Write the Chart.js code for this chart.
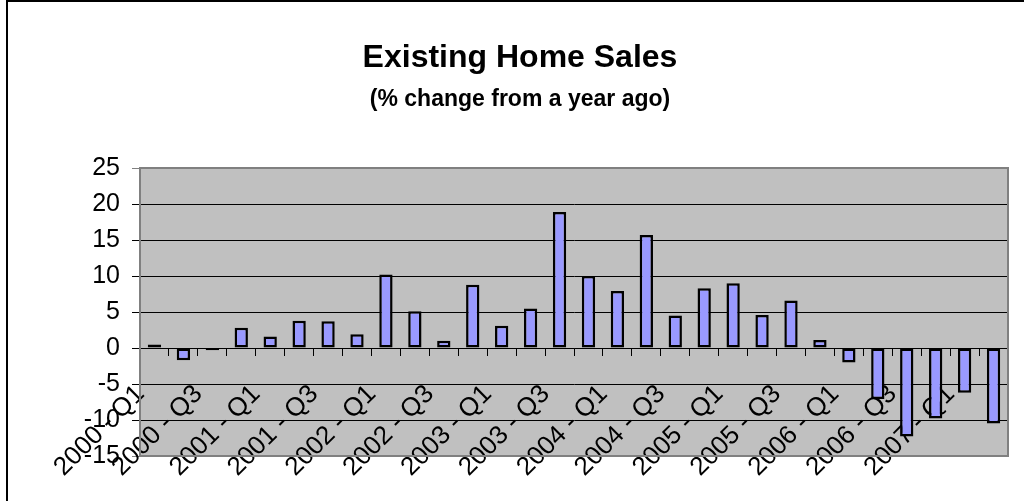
<!DOCTYPE html>
<html>
<head>
<meta charset="utf-8">
<script src="https://cdn.jsdelivr.net/npm/chart.js@4"></script>
<style>
  html, body { margin: 0; padding: 0; background: #fff; overflow: hidden; }
  #frame {
    position: absolute; left: 6px; top: 0px;
    width: 1024px; height: 510px;
    border-left: 2px solid #000; border-top: 2px solid #000;
  }
  #frame canvas { display: block; }
</style>
</head>
<body>
<div id="frame"><canvas id="bar-chart" width="1024" height="499"></canvas></div>
<script>
// quarters, 2000 Q1 .. 2007 Q2
const quarters = [
  "2000 - Q1", "2000 - Q2", "2000 - Q3", "2000 - Q4",
  "2001 - Q1", "2001 - Q2", "2001 - Q3", "2001 - Q4",
  "2002 - Q1", "2002 - Q2", "2002 - Q3", "2002 - Q4",
  "2003 - Q1", "2003 - Q2", "2003 - Q3", "2003 - Q4",
  "2004 - Q1", "2004 - Q2", "2004 - Q3", "2004 - Q4",
  "2005 - Q1", "2005 - Q2", "2005 - Q3", "2005 - Q4",
  "2006 - Q1", "2006 - Q2", "2006 - Q3", "2006 - Q4",
  "2007 - Q1", "2007 - Q2"
];
// % change from a year ago
const salesChange = [
  0.5, -1.7, -0.3, 2.8,
  1.6, 3.8, 3.7, 1.9,
  10.2, 5.1, 1.0, 8.8,
  3.1, 5.5, 18.9, 10.0,
  7.9, 15.7, 4.5, 8.3,
  9.0, 4.6, 6.6, 1.1,
  -2.0, -7.1, -12.3, -9.8,
  -6.2, -10.5
];
const yMin = -15, yMax = 25, yStep = 5;

const plotBg = {
  id: 'plotBg',
  beforeDraw(chart) {
    const a = chart.chartArea, ctx = chart.ctx;
    ctx.save();
    ctx.fillStyle = '#c0c0c0';
    ctx.fillRect(a.left, a.top, a.right - a.left, a.bottom - a.top);
    ctx.restore();
  },
  afterDraw(chart) {
    const a = chart.chartArea, ctx = chart.ctx;
    ctx.save();
    ctx.strokeStyle = '#808080';
    ctx.lineWidth = 2;
    ctx.beginPath();
    ctx.moveTo(a.left, a.top); ctx.lineTo(a.right, a.top);
    ctx.lineTo(a.right, a.bottom); ctx.lineTo(a.left, a.bottom);
    ctx.stroke();
    ctx.restore();
  }
};

new Chart(document.getElementById("bar-chart"), {
  type: 'bar',
  data: {
    labels: quarters,
    datasets: [{
      label: "Existing Home Sales",
      data: salesChange,
      backgroundColor: "#9999ff",
      borderColor: "#000000",
      borderWidth: 2.5,
      borderSkipped: false,
      barPercentage: 0.46,
      categoryPercentage: 1.0
    }]
  },
  options: {
    responsive: false,
    animation: false,
    layout: { padding: { left: 0, right: 0, bottom: 45 } },
    plugins: {
      legend: { display: false },
      tooltip: { enabled: false },
      title: {
        display: true,
        text: 'Existing Home Sales',
        color: '#000',
        font: { family: 'Liberation Sans', size: 32, weight: 'bold' },
        padding: { top: 37, bottom: 8 }
      },
      subtitle: {
        display: true,
        text: '(% change from a year ago)',
        color: '#000',
        font: { family: 'Liberation Sans', size: 23, weight: 'bold' },
        padding: { top: 0, bottom: 55 }
      }
    },
    scales: {
      x: {
        position: { y: 0 },
        offset: true,
        afterFit: function (s) { s.paddingRight = 0; s.paddingLeft = 0; },
        grid: {
          offset: true,
          drawOnChartArea: false,
          drawTicks: true,
          tickLength: 7,
          color: '#000'
        },
        border: { color: '#000', width: 1 },
        ticks: {
          autoSkip: false,
          minRotation: 45,
          maxRotation: 45,
          padding: 24,
          labelOffset: -14,
          color: '#000',
          font: { family: 'Liberation Sans', size: 26 },
          callback: function (v, i) { return i % 2 === 0 ? quarters[i] : ''; }
        }
      },
      y: {
        min: yMin,
        max: yMax,
        afterFit: function (s) { s.width = 132; },
        grid: {
          color: function (c) {
            const v = c.tick.value;
            return (v === yMin || v === yMax) ? '#808080' : '#000';
          },
          tickLength: 8,
          lineWidth: 1
        },
        border: { color: '#808080', width: 2 },
        ticks: {
          stepSize: yStep,
          padding: 12,
          color: '#000',
          font: { family: 'Liberation Sans', size: 25 }
        }
      },
      // empty right-hand strip so the plot stops where the reference does
      yRight: {
        position: 'right',
        afterFit: function (s) { s.width = 24; },
        grid: { display: false },
        border: { display: false },
        ticks: { display: false }
      }
    }
  },
  plugins: [plotBg]
});
</script>
</body>
</html>
